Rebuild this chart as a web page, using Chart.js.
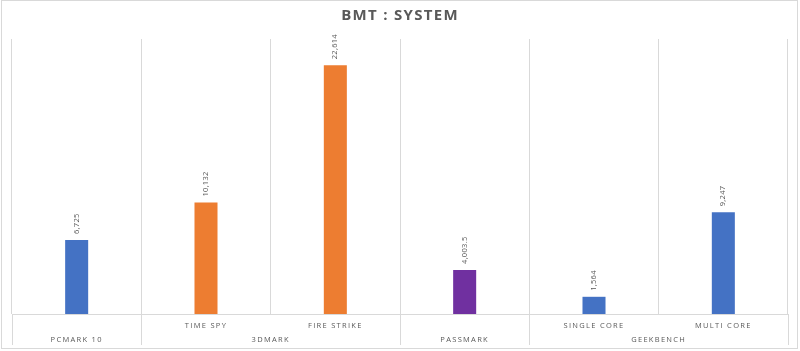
<!DOCTYPE html>
<html>
<head>
<meta charset="utf-8">
<script src="https://cdn.jsdelivr.net/npm/chart.js@4"></script>
<style>
  html, body { margin: 0; padding: 0; background: #fff; }
  #wrap { width: 800px; height: 351px; position: relative; }
</style>
</head>
<body>
<div id="wrap"><canvas id="bmtChart"></canvas></div>
<script>
(function () {
  "use strict";

  // data
  const subLabels = ["", "TIME SPY", "FIRE STRIKE", "", "SINGLE CORE", "MULTI CORE"];
  const groupLabels = ["PCMARK 10", "3DMARK", "PASSMARK", "GEEKBENCH"];
  const groupSpans = [1, 2, 1, 2];
  const scores = [6725, 10132, 22614, 4003.5, 1564, 9247];
  const barColors = ["#4472C4", "#ED7D31", "#ED7D31", "#7030A0", "#4472C4", "#4472C4"];

  const GRID = "#d9d9d9";
  const TEXT = "#595959";
  const FONT = "'Open Sans', 'Liberation Sans', sans-serif";

  function fmt(v) {
    return v.toLocaleString("en-US", { maximumFractionDigits: 1 });
  }

  // frame + letter spacing
  const framePlugin = {
    id: "frame",
    beforeDraw(chart) {
      const ctx = chart.ctx;
      ctx.save();
      ctx.strokeStyle = GRID;
      ctx.lineWidth = 1;
      ctx.strokeRect(1.5, 0.5, 796, 348);
      ctx.restore();
      ctx.letterSpacing = "1.3px";
    }
  };

  // second row of the category axis + group separators
  const groupAxisPlugin = {
    id: "groupAxis",
    afterDraw(chart) {
      const ctx = chart.ctx;
      const x = chart.scales.x;
      const area = chart.chartArea;
      const half = (x.getPixelForValue(1) - x.getPixelForValue(0)) / 2;
      ctx.save();
      ctx.strokeStyle = GRID;
      ctx.lineWidth = 1;
      ctx.fillStyle = TEXT;
      ctx.font = "7.5px " + FONT;
      ctx.letterSpacing = "1.3px";
      ctx.textAlign = "center";
      ctx.textBaseline = "middle";
      let start = 0;
      const edges = [area.left];
      groupLabels.forEach(function (g, i) {
        const end = start + groupSpans[i] - 1;
        const left = x.getPixelForValue(start) - half;
        const right = x.getPixelForValue(end) + half;
        edges.push(right);
        ctx.fillText(g, (left + right) / 2, 340);
        start = end + 1;
      });
      edges.forEach(function (px) {
        const p = Math.round(px) + 0.5;
        ctx.beginPath();
        ctx.moveTo(p, area.bottom);
        ctx.lineTo(p, 345);
        ctx.stroke();
      });
      ctx.restore();
    }
  };

  // rotated value labels above the bars
  const valueLabelPlugin = {
    id: "valueLabels",
    afterDatasetsDraw(chart) {
      const ctx = chart.ctx;
      const meta = chart.getDatasetMeta(0);
      ctx.save();
      ctx.fillStyle = TEXT;
      ctx.font = "7.5px " + FONT;
      ctx.letterSpacing = "0.3px";
      ctx.textAlign = "left";
      ctx.textBaseline = "middle";
      meta.data.forEach(function (bar, i) {
        ctx.save();
        ctx.translate(bar.x, bar.y - 6);
        ctx.rotate(-Math.PI / 2);
        ctx.fillText(fmt(scores[i]), 0, 0);
        ctx.restore();
      });
      ctx.restore();
    }
  };

  document.addEventListener("DOMContentLoaded", function () {
    const el = document.getElementById("bmtChart");
    new Chart(el, {
      type: "bar",
      data: {
        labels: subLabels,
        datasets: [{
          data: scores,
          backgroundColor: barColors,
          borderWidth: 0,
          categoryPercentage: 1,
          barPercentage: 0.178
        }]
      },
      options: {
        responsive: true,
        maintainAspectRatio: false,
        animation: false,
        layout: { padding: { left: 12, right: 12, top: 0, bottom: 14 } },
        plugins: {
          legend: { display: false },
          tooltip: { enabled: false },
          title: {
            display: true,
            text: "BMT : SYSTEM",
            color: TEXT,
            font: { family: FONT, size: 15, weight: "bold" },
            padding: { top: 7, bottom: 14 }
          }
        },
        scales: {
          x: {
            offset: true,
            grid: { offset: true, color: GRID, drawTicks: false },
            border: { display: true, color: GRID },
            ticks: {
              color: TEXT,
              font: { family: FONT, size: 7.5 },
              padding: 7,
              autoSkip: false,
              maxRotation: 0
            }
          },
          y: {
            display: false,
            min: 0,
            max: 25000
          }
        }
      },
      plugins: [framePlugin, groupAxisPlugin, valueLabelPlugin]
    });
  });
})();
</script>
</body>
</html>
